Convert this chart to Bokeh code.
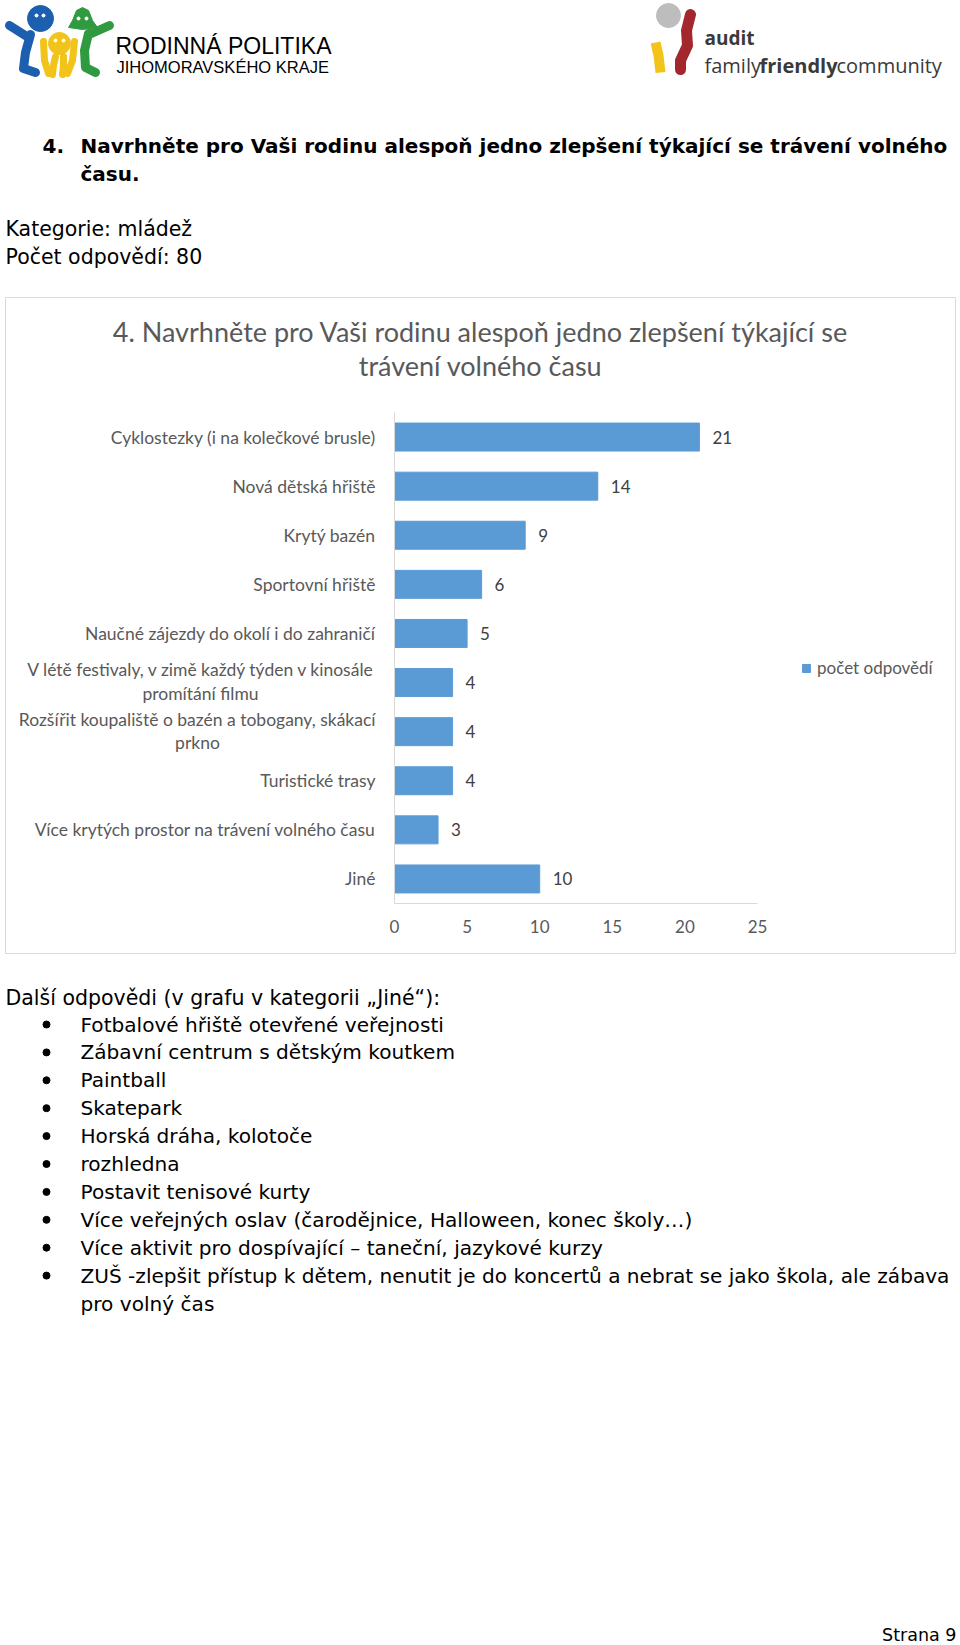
from bokeh.plotting import figure
from bokeh.models import (Range1d, Legend, LegendItem, LinearAxis, FixedTicker)
from bokeh.core.properties import value
from bokeh.embed import file_html
from bokeh.resources import INLINE

# ---------------- data ----------------
categories = [
    "Cyklostezky (i na kolečkové brusle)",
    "Nová dětská hřiště",
    "Krytý bazén",
    "Sportovní hřiště",
    "Naučné zájezdy do okolí i do zahraničí",
    "V létě festivaly, v zimě každý týden v kinosále\npromítání filmu",
    "Rozšířit koupaliště o bazén a tobogany, skákací\nprkno",
    "Turistické trasy",
    "Více krytých prostor na trávení volného času",
    "Jiné",
]
counts = [21, 14, 9, 6, 5, 4, 4, 4, 3, 10]
x_ticks = [0, 5, 10, 15, 20, 25]
series_name = "počet odpovědí"
chart_title = ["4. Navrhněte pro Vaši rodinu alespoň jedno zlepšení týkající se",
               "trávení volného času"]
page_heading = ["4.", "Navrhněte pro Vaši rodinu alespoň jedno zlepšení týkající se trávení volného",
                "času."]
page_info = ["Kategorie: mládež", "Počet odpovědí: 80"]
other_intro = "Další odpovědi (v grafu v kategorii \u201eJiné\u201c):"
other_answers = [
    "Fotbalové hřiště otevřené veřejnosti",
    "Zábavní centrum s dětským koutkem",
    "Paintball",
    "Skatepark",
    "Horská dráha, kolotoče",
    "rozhledna",
    "Postavit tenisové kurty",
    "Více veřejných oslav (čarodějnice, Halloween, konec školy\u2026)",
    "Více aktivit pro dospívající \u2013 taneční, jazykové kurzy",
    "ZUŠ -zlepšit přístup k dětem, nenutit je do koncertů a nebrat se jako škola, ale zábava",
]
other_tail = "pro volný čas"
page_footer = "Strana 9"

# ---------------- page geometry (pixels) ----------------
W, H = 960, 1645
PAGE_FONT = "DejaVu Sans"
CHART_FONT = "Lato"
GREY = "#595959"
AX_X0, AX_X1 = 394, 757          # value axis span (pixels)
AX_Y0, AX_Y1 = 412, 903          # category band span (pixels)
LABEL_STANDOFF = 19
VMAX = x_ticks[-1]
px_per_val = (AX_X1 - AX_X0) / VMAX
px_per_cat = (AX_Y1 - AX_Y0) / len(categories)

p = figure(width=W, height=H, x_range=Range1d(0, W), y_range=Range1d(H, 0),
           output_backend="svg", toolbar_location=None, x_axis_type=None, y_axis_type=None,
           min_border=0, outline_line_color=None)
p.grid.visible = False

# ---------------- header: logos ----------------
BLUE, YEL, GRN = "#1b5fae", "#f2c318", "#2f9a3f"
p.multi_line(xs=[[28, 9], [30, 25, 23, 35]],
             ys=[[37, 25], [34, 52, 68, 72]],
             line_color=BLUE, line_width=9, line_cap="round", line_join="round")
p.circle(x=[40], y=[18], radius=13, color=BLUE)
p.multi_line(xs=[[43, 44, 48], [74, 72, 67], [55, 53, 52], [63, 63, 62]],
             ys=[[41, 60, 73], [41, 60, 73], [56, 65, 74], [56, 65, 74]],
             line_color=YEL, line_width=7, line_cap="round", line_join="round")
p.circle(x=[59], y=[43], radius=11, color=YEL)
p.multi_line(xs=[[91, 109], [88, 84, 85, 95]],
             ys=[[33, 25], [33, 50, 67, 72]],
             line_color=GRN, line_width=9, line_cap="round", line_join="round")
p.patch(x=[68, 72, 76, 82, 88, 92, 97, 82], y=[27, 20, 10, 7, 10, 20, 27, 29], color=GRN)
p.scatter(x=[36, 43, 55, 63, 78, 86], y=[15, 15, 40, 40, 18, 18], size=3, color="white")
p.text(x=[115], y=[45], text=["RODINNÁ POLITIKA"], text_font=value("Liberation Sans"),
       text_font_size="23px", text_baseline="middle", text_color="black")
p.text(x=[116], y=[66], text=["JIHOMORAVSKÉHO KRAJE"], text_font=value("Liberation Sans"),
       text_font_size="16.5px", text_baseline="middle", text_color="black")

p.circle(x=[668], y=[15], radius=12, color="#bdbdbd")
p.multi_line(xs=[[690, 686, 687, 680, 680]], ys=[[14, 30, 45, 60, 69]],
             line_color="#a3282d", line_width=11, line_cap="round", line_join="round")
p.multi_line(xs=[[655, 658, 660]], ys=[[42, 55, 72]],
             line_color=YEL, line_width=10, line_cap="butt", line_join="round")
p.text(x=[704], y=[37], text=["audit"], text_font=value("Open Sans"), text_font_size="19px",
       text_font_style="bold", text_baseline="middle", text_color="#3a3a3a")
p.text(x=[704], y=[65], text=["family"], text_font=value("Open Sans"), text_font_size="20px",
       text_baseline="middle", text_color="#3a3a3a")
p.text(x=[759], y=[65], text=["friendly"], text_font=value("Open Sans"), text_font_size="20px",
       text_font_style="bold", text_baseline="middle", text_color="#3a3a3a")
p.text(x=[836], y=[65], text=["community"], text_font=value("Open Sans"), text_font_size="20px",
       text_baseline="middle", text_color="#3a3a3a")

# ---------------- page heading ----------------
p.text(x=[42, 80, 80], y=[145, 145, 173], text=page_heading, text_font=value(PAGE_FONT),
       text_font_size="20px", text_font_style="bold", text_baseline="middle", text_color="black")
p.text(x=[5, 5], y=[228, 256], text=page_info, text_font=value(PAGE_FONT),
       text_font_size="20.5px", text_baseline="middle", text_color="black")

# ---------------- chart ----------------
p.quad(left=[5], right=[955], top=[297], bottom=[953], fill_color=None,
       line_color="#d9d9d9", line_width=1)
p.text(x=[480, 480], y=[331, 365], text=chart_title, text_align="center",
       text_baseline="middle", text_font=value(CHART_FONT), text_font_size="27px",
       text_color=GREY)

p.extra_x_ranges = {"val": Range1d(-AX_X0 / px_per_val, (W - AX_X0) / px_per_val)}
p.extra_y_ranges = {"cat": Range1d((H - AX_Y0) / px_per_cat, -AX_Y0 / px_per_cat)}
cat_pos = [i + 0.5 for i in range(len(categories))]

bars = p.hbar(y=cat_pos, right=counts, left=0, height=0.57, color="#5b9bd5",
              x_range_name="val", y_range_name="cat")
p.text(x=counts, y=cat_pos, text=[str(c) for c in counts], x_offset=13,
       x_range_name="val", y_range_name="cat",
       text_baseline="middle", text_align="left", text_font=value(CHART_FONT),
       text_font_size="17px", text_color="#404040")

# wrapped category labels: first line on the axis, second line centred beneath it
first_lines = [c.split("\n")[0] + ("\n" if "\n" in c else "") for c in categories]
wrap_idx = [i for i, c in enumerate(categories) if "\n" in c]
wrap_half_w = {5: 175, 6: 178}   # approx. half width of the first line (px)
p.text(x=[AX_X0 - LABEL_STANDOFF - wrap_half_w[i] for i in wrap_idx],
       y=[cat_pos[i] for i in wrap_idx], y_offset=11, y_range_name="cat",
       text=[categories[i].split("\n")[1] for i in wrap_idx],
       text_align="center", text_baseline="middle", text_font=value(CHART_FONT),
       text_font_size="17.5px", text_color=GREY)

yax = LinearAxis(y_range_name="cat", ticker=FixedTicker(ticks=cat_pos),
                 major_label_overrides={pos: lab for pos, lab in zip(cat_pos, first_lines)},
                 fixed_location=AX_X0, bounds=(0, len(categories)))
xax = LinearAxis(x_range_name="val", ticker=FixedTicker(ticks=x_ticks),
                 fixed_location=AX_Y1, bounds=(0, VMAX))
for ax in (xax, yax):
    ax.axis_line_color = "#d9d9d9"
    ax.major_tick_line_color = None
    ax.minor_tick_line_color = None
    ax.major_tick_out = 0
    ax.major_label_text_font = CHART_FONT
    ax.major_label_text_font_size = "17.5px"
    ax.major_label_text_color = GREY
xax.major_label_text_font_size = "17px"
xax.major_label_standoff = 16
yax.major_label_standoff = LABEL_STANDOFF
p.add_layout(yax, "left")
p.add_layout(xax, "below")

legend = Legend(items=[LegendItem(label=series_name, renderers=[bars])],
                location=(801, H - 678),
                border_line_color=None, background_fill_alpha=0, padding=0, margin=0,
                glyph_width=10, glyph_height=10, label_standoff=6, label_height=20,
                label_text_font=CHART_FONT, label_text_font_size="17px",
                label_text_color=GREY)
p.add_layout(legend, "center")

# ---------------- list below the chart ----------------
list_y = [1024 + 27.9 * i for i in range(len(other_answers))]
p.text(x=[5], y=[997], text=[other_intro], text_font=value(PAGE_FONT), text_font_size="20.5px",
       text_baseline="middle", text_color="black")
p.scatter(x=[46] * len(other_answers), y=list_y, size=7, color="black")
p.text(x=[80] * len(other_answers), y=list_y, text=other_answers, text_font=value(PAGE_FONT),
       text_font_size="20.1px", text_baseline="middle", text_color="black")
p.text(x=[80], y=[list_y[-1] + 27.9], text=[other_tail], text_font=value(PAGE_FONT),
       text_font_size="20.1px", text_baseline="middle", text_color="black")
p.text(x=[956], y=[1634], text=[page_footer], text_font=value(PAGE_FONT), text_font_size="17.5px",
       text_baseline="middle", text_align="right", text_color="black")

open("out.html", "w").write(file_html(p, INLINE))
